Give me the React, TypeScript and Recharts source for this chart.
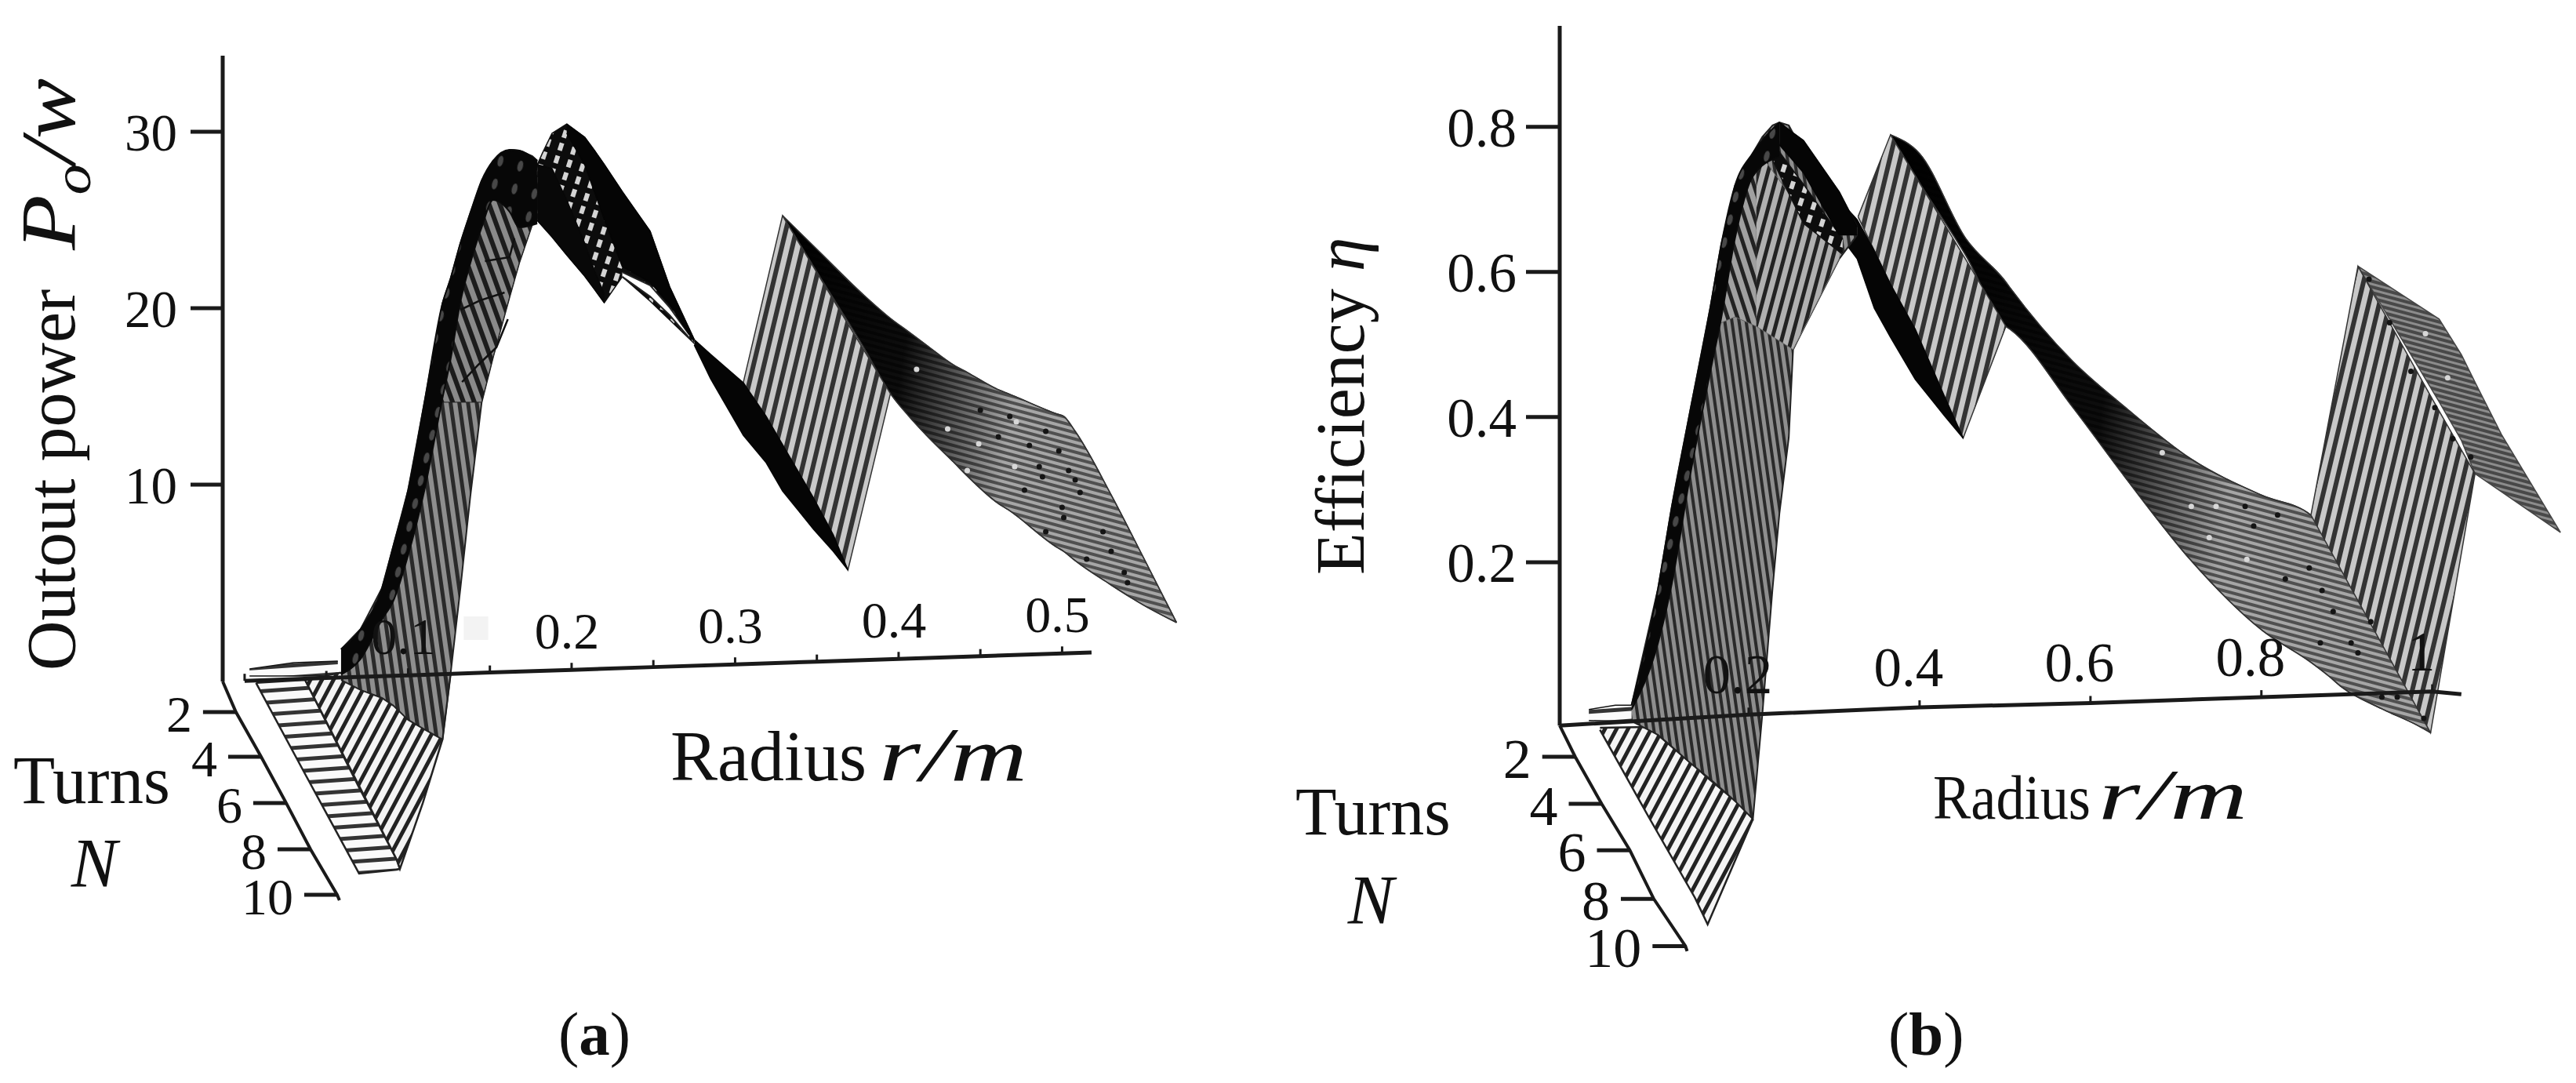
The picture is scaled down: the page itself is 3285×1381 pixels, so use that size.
import { Area, ComposedChart, Line, Scatter, XAxis, YAxis } from "recharts";

// ─── (a) output power ────────────────────────────────────────────────────────

const powerTicks = [10, 20, 30];
const powerAxisR = [-0.0134, -0.0134];
const powerAxisV = [-1.16, 34.31];
const radiusTicksA = [0, 0.05, 0.1, 0.15, 0.2, 0.25, 0.3, 0.35, 0.4, 0.45, 0.5, 0.518];
const radiusLevelA = [-1.12, -0.96, -0.81, -0.65, -0.5, -0.34, -0.19, -0.03, 0.12, 0.28, 0.43, 0.49];
const radiusLabelsA = ["", "", "0.1", "", "0.2", "", "0.3", "", "0.4", "", "0.5", "none"];
const turnsLabels = ["", "2", "4", "6", "8", "10", ""];
const turnsAR = [-0.0134, -0.0053, 0.0101, 0.0254, 0.0403, 0.0566, 0.058];
const turnsAV = [-1.16, -2.89, -5.42, -8.04, -10.67, -13.24, -13.56];

const backR = [0.003, 0.03, 0.057];
const backHi = [-0.44, -0.09, 0];
const backLo = [-0.84, -0.84, -0.84];

const fadeR = [0.134, 0.149];
const fadeHi = [2.53, 2.53];
const fadeLo = [1.2, 1.2];

const ladderR = [0.007, 0.037, 0.07, 0.093, 0.095];
const ladderHi = [-1.24, -1.07, -7.16, -11.24, -11.78];
const ladderLo = [-1.24, -6.4, -12.04, -11.82, -11.78];

const fanR = [0.037, 0.058, 0.093, 0.095, 0.109, 0.121, 0.126];
const fanHi = [-1.07, -0.67, -0.67, -0.67, -0.67, -0.67, -0.71];
const fanLo = [-1.07, -4.89, -11.24, -11.78, -8.04, -4.44, -0.71];

const wallR = [0.059, 0.071, 0.084, 0.091, 0.1, 0.11, 0.121, 0.126, 0.132, 0.138, 0.145, 0.152, 0.162, 0.168, 0.176, 0.179];
const wallHi = [0.67, 1.82, 4.13, 6.53, 9.69, 14.67, 20.27, 21.69, 23.69, 25.38, 27.24, 28.36, 28.98, 28.93, 28.62, 28.36];
const wallLo = [-1.07, -1.64, -2.09, -2.53, -3.33, -3.87, -4.44, -0.71, 4.13, 9.29, 14.67, 17.24, 20.62, 22.58, 24.76, 25.47];

const wallTopR = [0.11, 0.121, 0.126, 0.132, 0.138, 0.145, 0.152, 0.162, 0.168, 0.176, 0.179];
const wallTopHi = [14.67, 20.27, 21.69, 23.69, 25.38, 27.24, 28.36, 28.98, 28.93, 28.62, 28.36];
const wallTopLo = [14.67, 14.67, 14.67, 14.67, 14.67, 14.67, 17.24, 20.62, 22.58, 24.76, 25.47];

const edgeR = [0.059, 0.071, 0.084, 0.091, 0.1, 0.11, 0.121, 0.126, 0.132, 0.138, 0.145, 0.152, 0.162, 0.168, 0.179];
const edgeHi = [0.67, 1.82, 4.13, 6.53, 9.69, 14.67, 20.27, 21.69, 23.69, 25.38, 27.24, 28.36, 28.98, 28.93, 28.36];
const edgeLo = [-0.76, 0.13, 2.36, 3.42, 6, 9.69, 14.89, 17.11, 20.36, 22.53, 24.58, 26.13, 25.47, 24.58, 24.8];

const seamOneR = [0.133, 0.143, 0.154, 0.161];
const seamOneV = [15.82, 16.8, 17.78, 19.38];
const seamTwoR = [0.132, 0.144, 0.159];
const seamTwoV = [19.91, 20.44, 20.89];
const seamThreeR = [0.147, 0.162, 0.165];
const seamThreeV = [22.67, 22.89, 23.96];

const crestR = [0.179, 0.182, 0.188, 0.197, 0.208, 0.214, 0.22, 0.231, 0.248, 0.26, 0.275];
const crestHi = [28.13, 28.76, 29.91, 30.44, 29.69, 28.93, 28.13, 26.6, 24.36, 21.2, 18.22];
const crestLo = [24.98, 24.67, 24.04, 23.02, 21.82, 21.07, 20.31, 21.78, 20.4, 19.33, 18];

const gapR = [0.231, 0.248, 0.26, 0.272];
const gapHi = [22.04, 21.29, 20.04, 18.49];
const gapLo = [21.78, 20.67, 19.6, 18.31];

const crestTopR = [0.197, 0.208, 0.214, 0.22, 0.231, 0.248, 0.26, 0.275];
const crestTopHi = [30.44, 29.69, 28.93, 28.13, 26.6, 24.36, 21.2, 18.22];
const crestTopLo = [29.91, 28.13, 26.58, 25.02, 22.36, 21.47, 20.22, 18.09];

const crestLowR = [0.179, 0.188, 0.197, 0.208, 0.214, 0.22];
const crestLowHi = [28.13, 27.91, 26.13, 23.69, 22.13, 20.8];
const crestLowLo = [24.98, 24.04, 23.02, 21.82, 21.07, 20.31];

const ribbonR = [0.275, 0.285, 0.305, 0.319, 0.329, 0.348, 0.36, 0.369];
const ribbonHi = [18.22, 17.38, 15.78, 13.87, 12.27, 9.24, 7.16, 5.16];
const ribbonLo = [17.91, 16, 12.8, 11.24, 9.64, 7.47, 6.22, 5.16];

const stripR = [0.305, 0.329, 0.369, 0.395];
const stripHi = [15.78, 25.24, 19.11, 15.16];
const stripLo = [15.78, 11.78, 5.16, 15.16];

const tailR = [0.329, 0.351, 0.379, 0.395, 0.406, 0.417, 0.434, 0.442, 0.461, 0.467, 0.497, 0.501, 0.508, 0.53, 0.55, 0.57];
const tailHi = [25.24, 23.24, 20.71, 19.42, 18.67, 17.91, 16.76, 16.36, 15.38, 15.16, 14, 13.87, 13.02, 9.42, 5.82, 2.18];
const tailLo = [25.24, 21.91, 17.73, 15.16, 13.91, 12.8, 11.24, 10.49, 8.93, 8.58, 6.44, 6.22, 5.69, 4.31, 3.16, 2.18];

const darkDotsAR = [0.498, 0.48, 0.486, 0.504, 0.488, 0.511, 0.477, 0.5, 0.501, 0.49, 0.525, 0.515, 0.53, 0.538, 0.54, 0.508, 0.468, 0.49, 0.461, 0.45];
const darkDotsAV = [11.91, 12.22, 11.02, 10.8, 10.44, 9.56, 9.69, 8.71, 8.13, 7.33, 7.33, 5.78, 6.22, 5.02, 4.44, 10.27, 13.87, 13.02, 12.71, 14.22];
const lightDotsAR = [0.411, 0.449, 0.471, 0.472, 0.43, 0.442];
const lightDotsAV = [16.53, 12.31, 11.02, 13.56, 13.16, 10.8];

// ─── (b) efficiency ──────────────────────────────────────────────────────────

const effTicks = [0.2, 0.4, 0.6, 0.8];
const effAxisR = [-0.0211, -0.0211];
const effAxisV = [-0.025, 0.939];
const radiusTicksB = [-0.0211, 0.2, 0.4, 0.6, 0.8, 1, 1.034];
const radiusLevelB = [-0.025, -0.01, 0, 0.006, 0.014, 0.022, 0.018];
const radiusLabelsB = ["none", "0.2", "0.4", "0.6", "0.8", "1", "none"];
const turnsBR = [-0.0211, -0.003, 0.028, 0.061, 0.089, 0.126, 0.128];
const turnsBV = [-0.025, -0.068, -0.133, -0.197, -0.264, -0.329, -0.336];

const backBR = [0.013, 0.044, 0.073];
const backBHi = [-0.003, 0.003, 0.003];
const backBLo = [-0.018, -0.019, -0.018];

const frontBR = [0.026, 0.083, 0.137, 0.152, 0.205];
const frontBHi = [-0.028, -0.027, -0.081, -0.097, -0.149];
const frontBLo = [-0.031, -0.151, -0.262, -0.299, -0.154];

const wallBR = [0.063, 0.094, 0.11, 0.131, 0.155, 0.168, 0.184, 0.205, 0.216, 0.228, 0.236, 0.247, 0.252, 0.264, 0.306, 0.327];
const wallBHi = [0.003, 0.164, 0.276, 0.405, 0.55, 0.638, 0.719, 0.764, 0.786, 0.802, 0.806, 0.802, 0.791, 0.781, 0.71, 0.662];
const wallBLo = [-0.019, -0.038, -0.054, -0.076, -0.099, -0.112, -0.129, -0.154, -0.01, 0.164, 0.267, 0.372, 0.493, 0.521, 0.618, 0.651];

const fanLeftBR = [0.155, 0.168, 0.184, 0.209];
const fanLeftBHi = [0.55, 0.638, 0.719, 0.77];
const fanLeftBLo = [0.52, 0.53, 0.538, 0.525];
const fanRightBR = [0.209, 0.252, 0.306];
const fanRightBHi = [0.77, 0.7, 0.64];
const fanRightBLo = [0.525, 0.493, 0.618];

const crossBR = [0.226, 0.264, 0.31];
const crossBHi = [0.781, 0.721, 0.645];
const crossBLo = [0.759, 0.667, 0.624];

const edgeBR = [0.063, 0.094, 0.11, 0.131, 0.155, 0.168, 0.184, 0.205, 0.236];
const edgeBHi = [0.003, 0.164, 0.276, 0.405, 0.55, 0.638, 0.719, 0.764, 0.806];
const edgeBLo = [-0.003, 0.089, 0.17, 0.316, 0.462, 0.537, 0.646, 0.732, 0.759];

const edgeTopBR = [0.236, 0.264, 0.306, 0.327];
const edgeTopBHi = [0.806, 0.781, 0.71, 0.662];
const edgeTopBLo = [0.775, 0.737, 0.651, 0.651];

const stripBR = [0.328, 0.366, 0.451, 0.501];
const stripBHi = [0.676, 0.789, 0.623, 0.525];
const stripBLo = [0.676, 0.583, 0.371, 0.525];

const ribbonBR = [0.306, 0.327, 0.347, 0.366, 0.395, 0.429, 0.451];
const ribbonBHi = [0.699, 0.672, 0.629, 0.583, 0.521, 0.429, 0.371];
const ribbonBLo = [0.651, 0.618, 0.55, 0.51, 0.452, 0.402, 0.371];

const tailBR = [0.366, 0.4, 0.454, 0.501, 0.506, 0.579, 0.64, 0.718, 0.801, 0.858, 0.879, 0.894, 0.941, 0.983, 0.998];
const tailBHi = [0.789, 0.763, 0.646, 0.586, 0.578, 0.477, 0.414, 0.342, 0.292, 0.265, 0.226, 0.195, 0.106, 0.048, -0.035];
const tailBLo = [0.789, 0.723, 0.623, 0.525, 0.521, 0.414, 0.318, 0.202, 0.106, 0.062, 0.043, 0.028, -0.002, -0.025, -0.035];

const lastStripR = [0.858, 0.913, 0.998, 1.05];
const lastStripHi = [0.265, 0.608, 0.429, 0.322];
const lastStripLo = [0.265, 0.147, -0.035, 0.322];

const lastTailR = [0.913, 1.008, 1.034, 1.05, 1.081, 1.15];
const lastTailHi = [0.608, 0.535, 0.486, 0.448, 0.376, 0.241];
const lastTailLo = [0.608, 0.421, 0.368, 0.322, 0.297, 0.241];

const darkDotsBR = [0.781, 0.791, 0.819, 0.828, 0.856, 0.871, 0.884, 0.928, 0.905, 0.869, 0.913, 0.941, 0.959, 0.99, 0.926, 0.95, 0.975, 1.003, 1.024, 1.045];
const darkDotsBV = [0.277, 0.25, 0.265, 0.177, 0.192, 0.161, 0.132, 0.118, 0.089, 0.089, 0.075, 0.014, 0.014, -0.015, 0.59, 0.53, 0.463, 0.413, 0.37, 0.345];
const lightDotsBR = [0.718, 0.747, 0.684, 0.783, 0.739, 0.992, 1.018];
const lightDotsBV = [0.277, 0.277, 0.351, 0.204, 0.234, 0.515, 0.454];

// ─── Shared helpers ──────────────────────────────────────────────────────────

const SERIF = "'Liberation Serif', serif";
const INK = "#1a1a1a";

function band(r: number[], lo: number[], hi: number[]) {
  return r.map((x, i) => ({ r: x, range: [lo[i], hi[i]] }));
}

function path(r: number[], v: number[], labels?: string[]) {
  return r.map((x, i) => ({ r: x, v: v[i], label: labels ? labels[i] : "" }));
}

function patch(id: string, data: any[], fill: string, stroke = "#111", strokeWidth = 1.5, curve: any = "linear") {
  return (
    <Area
      key={id}
      data={data}
      dataKey="range"
      type={curve}
      fill={fill}
      fillOpacity={1}
      stroke={stroke}
      strokeWidth={strokeWidth}
      dot={false}
      activeDot={false}
      isAnimationActive={false}
    />
  );
}

function thin(id: string, data: any[], width = 2.5, stroke = "#111") {
  return (
    <Line
      key={id}
      data={data}
      dataKey="v"
      type="linear"
      stroke={stroke}
      strokeWidth={width}
      dot={false}
      activeDot={false}
      isAnimationActive={false}
    />
  );
}

function speckle(id: string, data: any[], fill: string) {
  return (
    <Scatter
      key={id}
      data={data}
      fill={fill}
      isAnimationActive={false}
      shape={(s: any) => <circle cx={s.cx} cy={s.cy} r={3.5} fill={fill} />}
    />
  );
}

function lines(id: string, size: number, width: number, ink: string, paper: string, angle: number) {
  return (
    <pattern
      id={id}
      patternUnits="userSpaceOnUse"
      width={size}
      height={size}
      patternTransform={`rotate(${angle})`}
    >
      <rect width={size} height={size} fill={paper} />
      <rect width={width} height={size} fill={ink} />
    </pattern>
  );
}

function Patterns({ p }: { p: string }) {
  const isA = p === "a";
  return (
    <defs>
      {lines(`${p}strip`, 13, 6, "#333", "#c8c8c8", 13.5)}
      {lines(`${p}wall`, isA ? 11 : 9, isA ? 5 : 4, "#2a2a2a", "#8e8e8e", -8)}
      {lines(`${p}upper`, 13, 6, "#1c1c1c", "#8a8a8a", -20)}
      {lines(`${p}fanL`, 12, 5, "#222", "#a0a0a0", -18)}
      {lines(`${p}fanR`, 12, 5, "#222", "#b0b0b0", 15)}
      {lines(`${p}slat`, 15, 5, "#333", "#fafafa", 86)}
      {lines(`${p}fan`, 13, 5, "#222", "#f4f4f4", 28)}
      {lines(`${p}tail`, 8, 4, "#505050", "#a6a6a6", 105)}
      {lines(`${p}tailDark`, 7, 4, "#484848", "#8c8c8c", 105)}
      <pattern id={`${p}cross`} patternUnits="userSpaceOnUse" width={17} height={17} patternTransform="rotate(18)">
        <rect width={17} height={17} fill="#0c0c0c" />
        <rect x={4} y={3} width={6} height={10} fill="#d4d4d4" />
      </pattern>
      <pattern id={`${p}edge`} patternUnits="userSpaceOnUse" width={26} height={30} patternTransform="rotate(14)">
        <rect width={26} height={30} fill="#070707" />
        <ellipse cx={19} cy={15} rx={3.5} ry={7} fill="#484848" />
      </pattern>
      <linearGradient id={`${p}shade`} x1="0" y1="0" x2="1" y2="0.15">
        <stop offset="0" stopColor="#000" stopOpacity={1} />
        <stop offset={isA ? 0.35 : 0.45} stopColor="#000" stopOpacity={0.92} />
        <stop offset={isA ? 0.64 : 0.7} stopColor="#000" stopOpacity={0} />
        <stop offset="1" stopColor="#000" stopOpacity={0} />
      </linearGradient>
    </defs>
  );
}

function RadiusTick(props: any) {
  const { cx, cy, payload, size, dx } = props;
  if (payload.label === "none") return <g />;
  return (
    <g>
      <line x1={cx} x2={cx} y1={cy} y2={cy - 9} stroke={INK} strokeWidth={3} />
      {payload.label && (
        <text x={cx + dx} y={cy - 27} textAnchor="middle" fontFamily={SERIF} fontSize={size} fill="#111">
          {payload.label}
        </text>
      )}
    </g>
  );
}

function TurnsTick(props: any) {
  const { cx, cy, payload, size } = props;
  if (!payload.label) return <g />;
  return (
    <g>
      <line x1={cx - 42} x2={cx} y1={cy} y2={cy} stroke={INK} strokeWidth={5} />
      <text x={cx - 56} y={cy + 3} dy="0.33em" textAnchor="end" fontFamily={SERIF} fontSize={size} fill="#111">
        {payload.label}
      </text>
    </g>
  );
}

function axisLine(data: any[], dot: any = false) {
  return (
    <Line
      data={data}
      dataKey="v"
      type="linear"
      stroke={INK}
      strokeWidth={5}
      dot={dot}
      activeDot={false}
      isAnimationActive={false}
    />
  );
}

// ─── Panels ──────────────────────────────────────────────────────────────────

function PowerChart() {
  return (
    <ComposedChart width={1640} height={1381} margin={{ top: 71, right: 100, bottom: 221, left: 0 }}>
      <Patterns p="a" />
      <XAxis type="number" dataKey="r" domain={[-0.0134, 0.589]} hide />
      <YAxis
        type="number"
        dataKey="v"
        domain={[-14.09, 34.31]}
        ticks={powerTicks}
        width={284}
        tickSize={41}
        tickMargin={17}
        axisLine={false}
        tickLine={{ stroke: INK, strokeWidth: 5 }}
        tick={{ fontSize: 67, fontFamily: SERIF, fill: "#111" }}
      />
      {patch("tail", band(tailR, tailLo, tailHi), "url(#atail)", "#333", 1.5, "monotoneX")}
      {patch("tailShade", band(tailR, tailLo, tailHi), "url(#ashade)", "#333", 1.5, "monotoneX")}
      {patch("strip", band(stripR, stripLo, stripHi), "url(#astrip)", "#333", 1.5)}
      {patch("ribbon", band(ribbonR, ribbonLo, ribbonHi), "#050505", "#050505")}
      {patch("fade", band(fadeR, fadeLo, fadeHi), "#f3f3f3", "none", 0)}
      {patch("back", band(backR, backLo, backHi), "url(#aslat)")}
      {patch("ladder", band(ladderR, ladderLo, ladderHi), "url(#aslat)", "#222", 2.5)}
      {patch("fan", band(fanR, fanLo, fanHi), "url(#afan)", "#222", 2.5)}
      {patch("wall", band(wallR, wallLo, wallHi), "url(#awall)", "#222", 2)}
      {patch("wallTop", band(wallTopR, wallTopLo, wallTopHi), "url(#aupper)", "#222", 1)}
      {patch("crest", band(crestR, crestLo, crestHi), "url(#across)")}
      {patch("gap", band(gapR, gapLo, gapHi), "#fff", "#222", 2)}
      {patch("crestTop", band(crestTopR, crestTopLo, crestTopHi), "#050505", "#050505")}
      {patch("crestLow", band(crestLowR, crestLowLo, crestLowHi), "#080808", "#080808")}
      {patch("edge", band(edgeR, edgeLo, edgeHi), "url(#aedge)", "#0a0a0a", 2, "monotoneX")}
      {thin("seamOne", path(seamOneR, seamOneV))}
      {thin("seamTwo", path(seamTwoR, seamTwoV))}
      {thin("seamThree", path(seamThreeR, seamThreeV))}
      {speckle("darkDots", path(darkDotsAR, darkDotsAV), "#141414")}
      {speckle("lightDots", path(lightDotsAR, lightDotsAV), "#d8d8d8")}
      {axisLine(path(powerAxisR, powerAxisV))}
      {axisLine(
        path(radiusTicksA, radiusLevelA, radiusLabelsA),
        (d: any) => <RadiusTick key={d.index} {...d} size={66} dx={-6} />,
      )}
      <Line
        data={path(turnsAR, turnsAV, turnsLabels)}
        dataKey="v"
        type="linear"
        stroke={INK}
        strokeWidth={4}
        dot={(d: any) => <TurnsTick key={d.index} {...d} size={66} />}
        activeDot={false}
        isAnimationActive={false}
      />
    </ComposedChart>
  );
}

function EfficiencyChart() {
  return (
    <ComposedChart width={1645} height={1381} margin={{ top: 33, right: 10, bottom: 156, left: 0 }}>
      <Patterns p="b" />
      <XAxis type="number" dataKey="r" domain={[-0.0211, 1.159]} hide />
      <YAxis
        type="number"
        dataKey="v"
        domain={[-0.349, 0.939]}
        ticks={effTicks}
        width={349}
        tickSize={43}
        tickMargin={12}
        axisLine={false}
        tickLine={{ stroke: INK, strokeWidth: 5 }}
        tick={{ fontSize: 71, fontFamily: SERIF, fill: "#111" }}
      />
      {patch("lastTail", band(lastTailR, lastTailLo, lastTailHi), "url(#btailDark)", "#444")}
      {patch("tail", band(tailBR, tailBLo, tailBHi), "url(#btail)", "#333", 1.5, "monotoneX")}
      {patch("tailShade", band(tailBR, tailBLo, tailBHi), "url(#bshade)", "#333", 1.5, "monotoneX")}
      {patch("strip", band(stripBR, stripBLo, stripBHi), "url(#bstrip)", "#333", 1.5)}
      {patch("ribbon", band(ribbonBR, ribbonBLo, ribbonBHi), "#050505", "#050505")}
      {patch("lastStrip", band(lastStripR, lastStripLo, lastStripHi), "url(#bstrip)", "#333", 1.5)}
      {patch("back", band(backBR, backBLo, backBHi), "url(#bslat)")}
      {patch("front", band(frontBR, frontBLo, frontBHi), "url(#bfan)", "#222", 2.5)}
      {patch("wall", band(wallBR, wallBLo, wallBHi), "url(#bwall)", "#222", 2)}
      {patch("fanLeft", band(fanLeftBR, fanLeftBLo, fanLeftBHi), "url(#bfanL)", "#666", 1)}
      {patch("fanRight", band(fanRightBR, fanRightBLo, fanRightBHi), "url(#bfanR)", "#666", 1)}
      {patch("cross", band(crossBR, crossBLo, crossBHi), "url(#bcross)")}
      {patch("edgeTop", band(edgeTopBR, edgeTopBLo, edgeTopBHi), "#050505", "#050505")}
      {patch("edge", band(edgeBR, edgeBLo, edgeBHi), "url(#bedge)", "#0a0a0a", 2, "monotoneX")}
      {speckle("darkDots", path(darkDotsBR, darkDotsBV), "#141414")}
      {speckle("lightDots", path(lightDotsBR, lightDotsBV), "#d8d8d8")}
      {axisLine(path(effAxisR, effAxisV))}
      {axisLine(
        path(radiusTicksB, radiusLevelB, radiusLabelsB),
        (d: any) => <RadiusTick key={d.index} {...d} size={71} dx={-14} />,
      )}
      <Line
        data={path(turnsBR, turnsBV, turnsLabels)}
        dataKey="v"
        type="linear"
        stroke={INK}
        strokeWidth={4}
        dot={(d: any) => <TurnsTick key={d.index} {...d} size={72} />}
        activeDot={false}
        isAnimationActive={false}
      />
    </ComposedChart>
  );
}

// ─── Axis titles sit on a plain overlay ──────────────────────────────────────

function Titles() {
  const base = { fontFamily: SERIF, fill: "#111" };
  return (
    <svg width={3285} height={1381} style={{ position: "absolute", left: 0, top: 0, pointerEvents: "none" }}>
      <text {...base} fontSize={88} transform="translate(95 855) rotate(-90)">Outout power</text>
      <text {...base} fontSize={100} fontStyle="italic" textLength={219} lengthAdjust="spacingAndGlyphs" transform="translate(95 319) rotate(-90)">
        P<tspan fontSize={68} dy={20}>o</tspan><tspan dy={-20}>/w</tspan>
      </text>
      <text {...base} fontSize={90} x={855} y={995}>Radius</text>
      <text {...base} fontSize={98} fontStyle="italic" x={1121} y={995} textLength={189} lengthAdjust="spacingAndGlyphs">r/m</text>
      <text {...base} fontSize={87} x={17} y={1024}>Turns</text>
      <text {...base} fontSize={88} fontStyle="italic" x={120} y={1130} textAnchor="middle">N</text>
      <text {...base} fontSize={79} x={712} y={1345}>(<tspan fontWeight="bold">a</tspan>)</text>

      <text {...base} fontSize={88} transform="translate(1739 733) rotate(-90)">
        Efficiency <tspan fontStyle="italic">η</tspan>
      </text>
      <text {...base} fontSize={80} x={2465} y={1044} textLength={201} lengthAdjust="spacingAndGlyphs">Radius</text>
      <text {...base} fontSize={90} fontStyle="italic" x={2676} y={1044} textLength={190} lengthAdjust="spacingAndGlyphs">r/m</text>
      <text {...base} fontSize={86} x={1652} y={1064}>Turns</text>
      <text {...base} fontSize={88} fontStyle="italic" x={1748} y={1177} textAnchor="middle">N</text>
      <text {...base} fontSize={79} x={2408} y={1345}>(<tspan fontWeight="bold">b</tspan>)</text>
    </svg>
  );
}

export default function App() {
  return (
    <div style={{ position: "absolute", left: 0, top: 0, width: 3285, height: 1381, background: "#fff" }}>
      <div style={{ position: "absolute", left: 0, top: 0 }}>
        <PowerChart />
      </div>
      <div style={{ position: "absolute", left: 1640, top: 0 }}>
        <EfficiencyChart />
      </div>
      <Titles />
    </div>
  );
}
